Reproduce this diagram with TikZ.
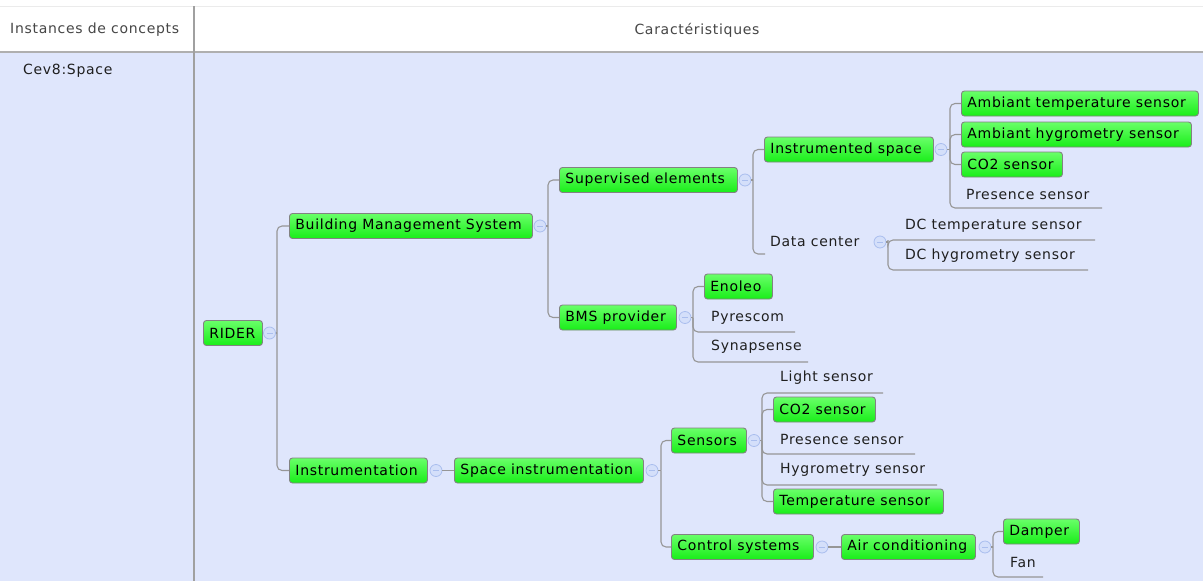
\documentclass[tikz,border=0pt]{standalone}
\usepackage{fontspec}
\setmainfont{DejaVu Sans}[LetterSpace=5]
\definecolor{bgblue}{RGB}{223,230,252}
\definecolor{linegray}{RGB}{150,150,150}
\definecolor{boxborder}{RGB}{130,130,130}
\definecolor{gtop}{RGB}{105,255,105}
\definecolor{gbot}{RGB}{25,238,25}
\definecolor{togfill}{RGB}{212,223,250}
\definecolor{togdraw}{RGB}{170,190,238}
\definecolor{hdrtext}{RGB}{70,70,70}
\definecolor{topline}{RGB}{235,235,235}
\definecolor{hdrline}{RGB}{175,175,175}
\definecolor{colline}{RGB}{160,160,160}
\newcommand{\gbtext}[2]{\makebox[\dimexpr #1pt-12pt\relax][l]{#2}}
\begin{document}
\begin{tikzpicture}[x=1pt,y=-1pt,
  gbox/.style={draw=boxborder, line width=0.9pt, rounded corners=3pt, top color=gtop, bottom color=gbot,
     minimum height=25pt, inner xsep=6pt, inner ysep=0pt, anchor=west, font=\fontsize{14}{16}\selectfont},
  ftext/.style={anchor=west, inner sep=0pt, text=black!88, font=\fontsize{14}{16}\selectfont},
  conn/.style={draw=linegray, line width=1.1pt, rounded corners=5pt},
  tog/.style={circle, draw=togdraw, fill=togfill, line width=0.8pt, minimum size=12pt, inner sep=0pt,
     path picture={\draw[togdraw, line width=0.8pt] ([xshift=-3pt]path picture bounding box.center) -- ([xshift=3pt]path picture bounding box.center);}},
  hdr/.style={font=\fontsize{14}{16}\selectfont, text=hdrtext, inner sep=0pt}
]
\useasboundingbox (0,0) rectangle (1203,581);
% background
\fill[white] (0,0) rectangle (1203,52);
\fill[bgblue] (0,53) rectangle (1203,581);
\draw[topline, line width=1pt] (0,6) -- (1203,6);
\draw[hdrline, line width=2.5pt] (0,52) -- (1203,52);
\draw[colline, line width=1.5pt] (194,6) -- (194,581);
\node[hdr, anchor=west] (h1) at (10,30) {Instances de concepts};
\node[hdr] (h2) at (697,30) {Caractéristiques};
\node[ftext] (inst) at (23,71) {Cev8:Space};

% green boxes
\node[gbox] (rider) at (203,333) {\gbtext{59}{RIDER}};
\node[gbox] (bms) at (289,226) {\gbtext{243}{Building Management System}};
\node[gbox] (instr) at (289,470.5) {\gbtext{138}{Instrumentation}};
\node[gbox] (spi) at (454,470.5) {\gbtext{189}{Space instrumentation}};
\node[gbox] (sup) at (559,180) {\gbtext{178}{Supervised elements}};
\node[gbox] (bmsp) at (559,317.5) {\gbtext{117}{BMS provider}};
\node[gbox] (ins) at (764,149.5) {\gbtext{169}{Instrumented space}};
\node[gbox] (ambt) at (961,103.5) {\gbtext{237}{Ambiant temperature sensor}};
\node[gbox] (ambh) at (961,134.5) {\gbtext{230}{Ambiant hygrometry sensor}};
\node[gbox] (co2a) at (961,164.5) {\gbtext{101}{CO2 sensor}};
\node[gbox] (enoleo) at (704,286.5) {\gbtext{68}{Enoleo}};
\node[gbox] (sens) at (671,440.5) {\gbtext{75}{Sensors}};
\node[gbox] (co2b) at (773,409.5) {\gbtext{102}{CO2 sensor}};
\node[gbox] (temps) at (773,501.5) {\gbtext{170}{Temperature sensor}};
\node[gbox] (ctrl) at (671,547) {\gbtext{142}{Control systems}};
\node[gbox] (air) at (841,547) {\gbtext{134}{Air conditioning}};
\node[gbox] (damper) at (1003,531.5) {\gbtext{76}{Damper}};

% text-only (fork) nodes
\node[ftext] (dc) at (770,241) {Data center};
\node[ftext] (dct) at (905,226) {DC temperature sensor};
\node[ftext] (dch) at (905,256) {DC hygrometry sensor};
\node[ftext] (pres1) at (966,194) {Presence sensor};
\node[ftext] (pyr) at (711,318) {Pyrescom};
\node[ftext] (syn) at (711,347) {Synapsense};
\node[ftext] (light) at (780,378) {Light sensor};
\node[ftext] (pres2) at (780,439.5) {Presence sensor};
\node[ftext] (hyg) at (780,470) {Hygrometry sensor};
\node[ftext] (fan) at (1010,562) {Fan};

% underline ends
\coordinate (dcU) at (765,254);
\coordinate (dctU) at (1095,240);
\coordinate (dchU) at (1088,270);
\coordinate (pres1U) at (1102,208);
\coordinate (pyrU) at (795,332);
\coordinate (synU) at (808,362);
\coordinate (lightU) at (883,393);
\coordinate (pres2U) at (915,454);
\coordinate (hygU) at (937,485);
\coordinate (fanU) at (1043,577);

% toggles
\node[tog] (t-rider) at (269.5,333) {};
\node[tog] (t-bms) at (540,226) {};
\node[tog] (t-instr) at (436,470.5) {};
\node[tog] (t-spi) at (652,470.5) {};
\node[tog] (t-sup) at (745,180) {};
\node[tog] (t-bmsp) at (685,317.5) {};
\node[tog] (t-ins) at (941,149.5) {};
\node[tog] (t-dc) at (880,242) {};
\node[tog] (t-sens) at (754,440.5) {};
\node[tog] (t-ctrl) at (822,547) {};
\node[tog] (t-air) at (985,547) {};

% connectors
\draw[conn] (t-rider.east) -- (277,333);
\draw[conn] (277,333) |- (bms.west);
\draw[conn] (277,333) |- (instr.west);
\draw[conn] (t-bms.east) -- (548,226);
\draw[conn] (548,226) |- (sup.west);
\draw[conn] (548,226) |- (bmsp.west);
\draw[conn] (t-sup.east) -- (753,180);
\draw[conn] (753,180) |- (ins.west);
\draw[conn] (753,180) |- (dcU);
\draw[conn] (t-ins.east) -- (950,149.5);
\draw[conn] (950,149.5) |- (ambt.west);
\draw[conn] (950,149.5) |- (ambh.west);
\draw[conn] (950,149.5) |- (co2a.west);
\draw[conn] (950,149.5) |- (pres1U);
\draw[conn] (t-dc.east) -- (888,242);
\draw[conn] (888,244) |- (dctU);
\draw[conn] (888,240) |- (dchU);
\draw[conn] (t-bmsp.east) -- (693,317.5);
\draw[conn] (693,317.5) |- (enoleo.west);
\draw[conn] (693,317.5) |- (pyrU);
\draw[conn] (693,317.5) |- (synU);
\draw[conn] (t-instr.east) -- (spi.west);
\draw[conn] (t-spi.east) -- (661,470.5);
\draw[conn] (661,470.5) |- (sens.west);
\draw[conn] (661,470.5) |- (ctrl.west);
\draw[conn] (t-sens.east) -- (762,440.5);
\draw[conn] (762,440.5) |- (lightU);
\draw[conn] (762,440.5) |- (co2b.west);
\draw[conn] (762,440.5) |- (pres2U);
\draw[conn] (762,440.5) |- (hygU);
\draw[conn] (762,440.5) |- (temps.west);
\draw[conn] (t-ctrl.east) -- (air.west);
\draw[conn] (t-air.east) -- (993,547);
\draw[conn] (993,547) |- (damper.west);
\draw[conn] (993,547) |- (fanU);
\end{tikzpicture}
\end{document}
